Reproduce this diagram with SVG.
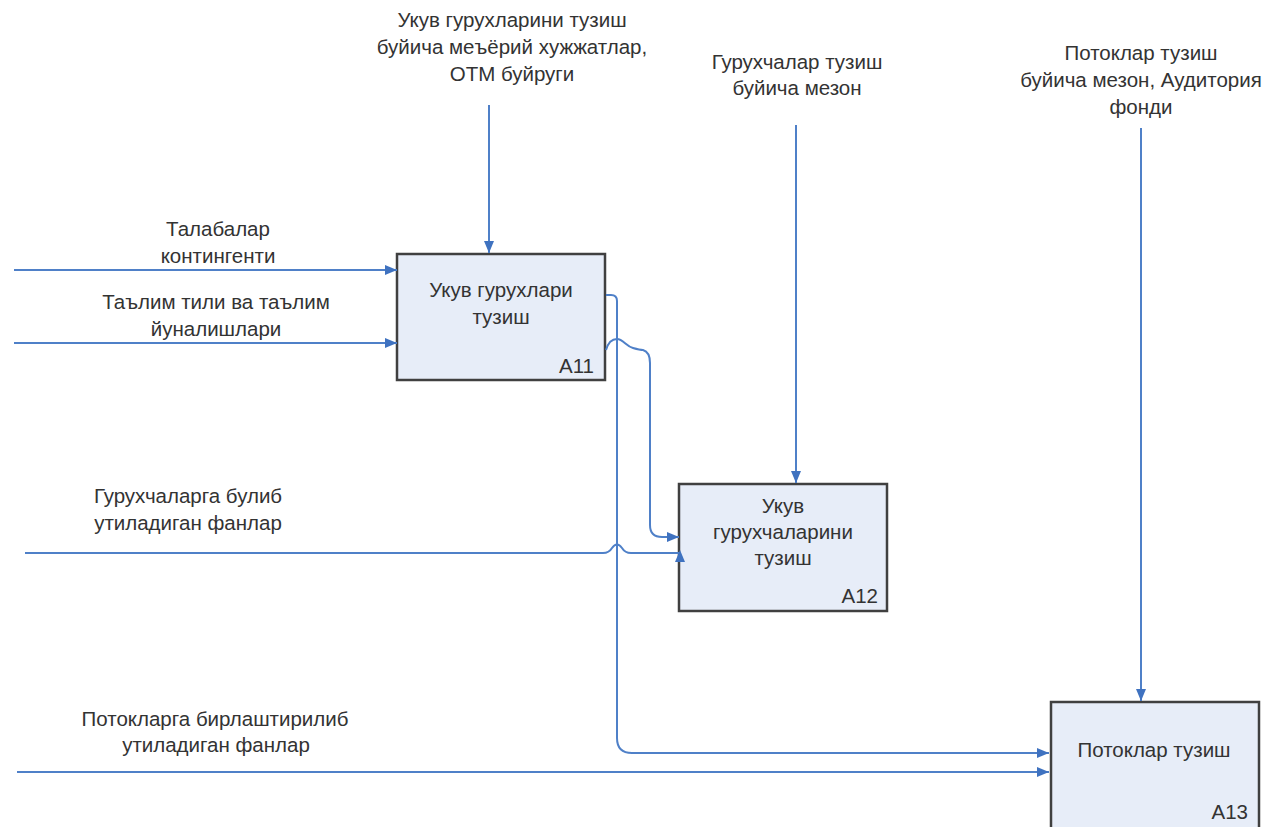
<svg xmlns="http://www.w3.org/2000/svg" width="1270" height="827" viewBox="0 0 1270 827">
<style>
text{font-family:"Liberation Sans",Arial,sans-serif;font-size:20.5px;fill:#333}
.c{text-anchor:middle}
.r{text-anchor:end}
.box{fill:#e7edf8;stroke:#404040;stroke-width:2.5}
.ln{fill:none;stroke:#4f80c8;stroke-width:2}
</style>
<defs>
<marker id="ah" markerUnits="userSpaceOnUse" markerWidth="14" markerHeight="12" refX="12" refY="5" orient="auto">
<path d="M0,0 L12,5 L0,10 Z" fill="#3f72c0"/>
</marker>
</defs>
<rect width="1270" height="827" fill="#fff"/>
<g id="A11">
<rect class="box" x="397" y="254" width="208" height="126"/>
<text class="c" x="501" y="297">Укув гурухлари</text>
<text class="c" x="501" y="324">тузиш</text>
<text class="r" x="594" y="373">A11</text>
</g>
<g id="A12">
<rect class="box" x="679" y="484" width="208" height="127"/>
<text class="c" x="783" y="513">Укув</text>
<text class="c" x="783" y="539">гурухчаларини</text>
<text class="c" x="783" y="565">тузиш</text>
<text class="r" x="878" y="603">A12</text>
</g>
<g id="A13">
<rect class="box" x="1051" y="702" width="208" height="140"/>
<text class="c" x="1154" y="757">Потоклар тузиш</text>
<text class="r" x="1248" y="819">A13</text>
</g>
<g id="connectors">
<path class="ln" d="M489,105 V253" marker-end="url(#ah)"/>
<path class="ln" d="M796,125 V483" marker-end="url(#ah)"/>
<path class="ln" d="M1141,128 V701" marker-end="url(#ah)"/>
<path class="ln" d="M14,270 H397" marker-end="url(#ah)"/>
<path class="ln" d="M14,343 H397" marker-end="url(#ah)"/>
<path class="ln" d="M25,553 H603 Q609,553 612,548 Q617,541 622,548 Q625,553 631,553 H680"/>
<polygon points="680,550 675,562 685,562" fill="#3f72c0"/>
<path class="ln" d="M17,772 H1049" marker-end="url(#ah)"/>
<path class="ln" d="M606,295 H611 Q617,295 617,301 V738 Q617,753 632,753 H1049" marker-end="url(#ah)"/>
<path class="ln" d="M606,350 C608,343 612,339 617,339 C623,339 626,346 633,348 Q640,350 643,350 Q650,352 650,363 V525 Q650,537 662,537 H679" marker-end="url(#ah)"/>
</g>
<g id="labels">
<text class="c" x="512" y="27">Укув гурухларини тузиш</text>
<text class="c" x="512" y="54">буйича меъёрий хужжатлар,</text>
<text class="c" x="512" y="81">ОТМ буйруги</text>
<text class="c" x="797" y="69">Гурухчалар тузиш</text>
<text class="c" x="797" y="95">буйича мезон</text>
<text class="c" x="1141" y="60">Потоклар тузиш</text>
<text class="c" x="1141" y="87">буйича мезон, Аудитория</text>
<text class="c" x="1141" y="114">фонди</text>
<text class="c" x="218" y="236">Талабалар</text>
<text class="c" x="218" y="263">контингенти</text>
<text class="c" x="216" y="309">Таълим тили ва таълим</text>
<text class="c" x="216" y="336">йуналишлари</text>
<text class="c" x="188" y="503">Гурухчаларга булиб</text>
<text class="c" x="188" y="530">утиладиган фанлар</text>
<text class="c" x="215" y="726">Потокларга бирлаштирилиб</text>
<text class="c" x="216" y="752">утиладиган фанлар</text>
</g>
</svg>
